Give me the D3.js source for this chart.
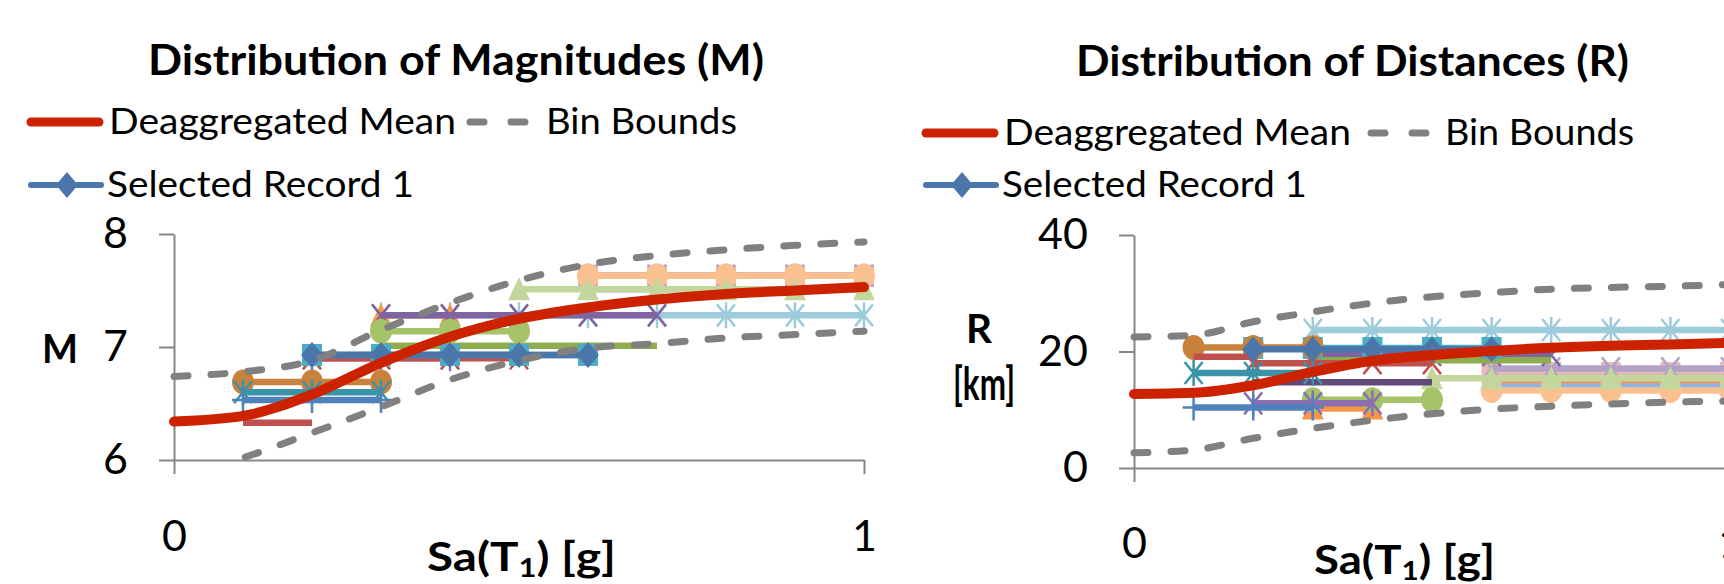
<!DOCTYPE html>
<html>
<head>
<meta charset="utf-8">
<style>
  body{margin:0;background:#fff;}
  svg{display:block;font-family:Lato,"Open Sans",sans-serif;}
</style>
</head>
<body>
<svg width="1724" height="584"></svg>
<script src="https://cdn.jsdelivr.net/npm/d3@7"></script>
<script>
// ---- data ----
var sa = [0, 0.1, 0.2, 0.3, 0.4, 0.5, 0.6, 0.7, 0.8, 0.9, 1.0];

var meanM  = [6.34, 6.39, 6.58, 6.86, 7.09, 7.25, 7.35, 7.42, 7.47, 7.50, 7.53];
var upperM = [6.74, 6.78, 6.88, 7.15, 7.39, 7.59, 7.73, 7.81, 7.86, 7.90, 7.93];
var lowerM = [5.85, 6.02, 6.24, 6.47, 6.71, 6.88, 6.99, 7.03, 7.08, 7.11, 7.14];

var meanR  = [12.7, 12.9, 14.2, 16.5, 18.4, 19.4, 20.1, 20.65, 21.0, 21.2, 21.5];
var upperR = [22.5, 22.8, 25.1, 26.8, 28.3, 29.4, 30.1, 30.7, 31.0, 31.2, 31.5];
var lowerR = [2.6, 3.1, 5.1, 6.8, 8.2, 9.3, 10.1, 10.6, 11.0, 11.3, 11.5];

// selected records: Sa range where the record is used, its M and its R
var recFrom = [0.6, 0.6, 0.6, 0.6, 0.6, 0.5, 0.3, 0.3, 0.3, 0.3, 0.3, 0.2, 0.2, 0.2, 0.2, 0.1, 0.1, 0.1, 0.1, 0.2];
var recTo   = [1.0, 1.0, 1.0, 1.0, 1.0, 1.0, 1.0, 0.4, 0.7, 0.7, 0.5, 0.5, 0.4, 0.5, 0.6, 0.3, 0.2, 0.3, 0.3, 0.6];
var recM    = [7.63, 7.51, 7.63, 7.63, 7.63, 7.51, 7.28, 7.28, 7.28, 7.01, 7.14, 6.93, 6.90, 6.90, 6.93, 6.69, 6.33, 6.60, 6.53, 6.93];
var recR    = [14.7, 14.0, 16.3, 17.1, 13.3, 15.4, 23.7, 10.2, 19.4, 18.5, 11.7, 14.7, 11.1, 18.0, 20.6, 20.7, 19.1, 16.3, 10.4, 20.4];

// record styles (drawn in this order, last on top)
var recColor  = ["#f79646", "#8eb4e3", "#e6b9b8", "#b3a2c7", "#fac090", "#c3d69b", "#9ccbdc", "#f79646",
                 "#8064a2", "#8fad4f", "#a5c368", "#604a7b", "#8c6fb0", "#c0504d", "#4bacc6", "#c8823c",
                 "#c0504d", "#3a93a6", "#4f81bd", "#4a76aa"];
var recMarker = ["none", "none", "square", "x", "circle", "triangle", "asterisk", "triangle",
                 "x", "none", "circle", "none", "asterisk", "x", "square", "circle",
                 "none", "asterisk", "plus", "diamond"];

var xTicks = [0, 1];
var yTicksM = [6, 7, 8];
var yTicksR = [0, 20, 40];

// ---- drawing ----
var svg = d3.select("svg");
var RED = "#cc2200", GREY = "#808080", AXIS = "#868686";

function marker(g, type, color, cx, cy) {
  if (type == "diamond") {
    g.append("path").attr("d", "M" + cx + "," + (cy - 13) + "L" + (cx + 11) + "," + cy + "L" + cx + "," + (cy + 13) + "L" + (cx - 11) + "," + cy + "Z").attr("fill", color);
  } else if (type == "square") {
    g.append("rect").attr("x", cx - 10).attr("y", cy - 11).attr("width", 20).attr("height", 22).attr("fill", color);
  } else if (type == "triangle") {
    g.append("path").attr("d", "M" + cx + "," + (cy - 12) + "L" + (cx + 11) + "," + (cy + 11) + "L" + (cx - 11) + "," + (cy + 11) + "Z").attr("fill", color);
  } else if (type == "circle") {
    g.append("ellipse").attr("cx", cx).attr("cy", cy).attr("rx", 11).attr("ry", 12.5).attr("fill", color);
  } else if (type == "x" || type == "asterisk" || type == "plus") {
    var d = "";
    if (type != "plus") d += "M" + (cx - 9) + "," + (cy - 11) + "L" + (cx + 9) + "," + (cy + 11) + "M" + (cx + 9) + "," + (cy - 11) + "L" + (cx - 9) + "," + (cy + 11);
    if (type != "x") d += "M" + cx + "," + (cy - 13) + "L" + cx + "," + (cy + 13);
    if (type == "plus") d += "M" + (cx - 11) + "," + cy + "L" + (cx + 11) + "," + cy;
    g.append("path").attr("d", d).attr("stroke", color).attr("stroke-width", 2.5).attr("fill", "none");
  }
}

function fitText(sel, len) {
  return sel.attr("textLength", len).attr("lengthAdjust", "spacingAndGlyphs");
}

function panel(o) {
  var g = svg.append("g");
  var x = d3.scaleLinear().domain([0, 1]).range([o.x0, o.x1]);
  var y = d3.scaleLinear().domain(o.domain).range([o.yBot, o.yTop]);

  // title
  fitText(g.append("text").attr("x", o.titleX).attr("y", o.titleY)
    .attr("font-size", 42).attr("font-weight", "bold").text(o.title), o.titleW);

  // legend
  var ly = o.legY;
  g.append("line").attr("x1", o.legX).attr("x2", o.legX + 68).attr("y1", ly).attr("y2", ly)
    .attr("stroke", RED).attr("stroke-width", 9).attr("stroke-linecap", "round");
  fitText(g.append("text").attr("x", o.legX + 78).attr("y", ly + 12).attr("font-size", 36).text("Deaggregated Mean"), o.meanW);
  g.append("line").attr("x1", o.dashX).attr("x2", o.dashX + 62).attr("y1", ly).attr("y2", ly)
    .attr("stroke", GREY).attr("stroke-width", 7).attr("stroke-linecap", "round").attr("stroke-dasharray", "14 27");
  fitText(g.append("text").attr("x", o.binX).attr("y", ly + 12).attr("font-size", 36).text("Bin Bounds"), o.binW);
  g.append("line").attr("x1", o.legX).attr("x2", o.legX + 70).attr("y1", 185).attr("y2", 185)
    .attr("stroke", recColor[19]).attr("stroke-width", 6).attr("stroke-linecap", "round");
  marker(g, "diamond", recColor[19], o.legX + 36, 185);
  fitText(g.append("text").attr("x", o.legX + 76).attr("y", 197).attr("font-size", 36).text("Selected Record 1"), o.recW);

  // axes
  var ya = g.append("g").attr("transform", "translate(" + o.x0 + ",0)")
    .call(d3.axisLeft(y).tickValues(o.yTicks).tickSize(15).tickSizeOuter(0).tickPadding(31).tickFormat(d3.format("d")));
  var xa = g.append("g").attr("transform", "translate(0," + o.yBot + ")")
    .call(d3.axisBottom(x).tickValues(xTicks).tickSize(14).tickSizeOuter(0).tickPadding(o.xPad).tickFormat(d3.format("d")));
  [ya, xa].forEach(function(a) {
    a.selectAll("path,line").attr("stroke", AXIS).attr("stroke-width", 2);
    a.selectAll("text").attr("font-size", 43).attr("fill", "#000").attr("font-family", "Lato,'Open Sans',sans-serif");
  });

  // axis titles
  o.yTitle.forEach(function(t) {
    fitText(g.append("text").attr("x", t[0]).attr("y", t[1]).attr("font-size", t[4]).attr("font-weight", "bold")
      .attr("text-anchor", "middle").text(t[2]), t[3]);
  });
  var st = g.append("text").attr("x", o.saX).attr("y", o.saY).attr("font-size", 40).attr("font-weight", "bold");
  st.append("tspan").text("Sa(T");
  st.append("tspan").attr("font-size", 26).attr("dy", 6).text("1");
  st.append("tspan").attr("dy", -6).text(") [g]");
  fitText(st, o.saW);

  // records
  var clipId = "clip" + o.id;
  g.append("clipPath").attr("id", clipId).append("rect")
    .attr("x", o.x0 - 30).attr("y", o.yTop).attr("width", o.x1 - o.x0 + 60).attr("height", o.yBot - o.yTop);
  var plot = g.append("g");
  recFrom.forEach(function(f, i) {
    var v = o.vals[i];
    var pts = sa.filter(function(s) { return s >= f - 1e-9 && s <= recTo[i] + 1e-9; });
    plot.append("line").attr("x1", x(f)).attr("x2", x(recTo[i])).attr("y1", y(v)).attr("y2", y(v))
      .attr("stroke", recColor[i]).attr("stroke-width", 6.5);
    pts.forEach(function(s) { marker(plot, recMarker[i], recColor[i], x(s), y(v)); });
  });

  // bin bounds and mean
  var line = d3.line().x(function(d, i) { return x(sa[i]); }).y(function(d) { return y(d); }).curve(d3.curveMonotoneX);
  var lines = g.append("g").attr("clip-path", "url(#" + clipId + ")");
  [o.upper, o.lower].forEach(function(b) {
    lines.append("path").attr("d", line(b)).attr("fill", "none").attr("stroke", GREY)
      .attr("stroke-width", 7).attr("stroke-linecap", "round").attr("stroke-dasharray", "14 23");
  });
  lines.append("path").attr("d", line(o.mean)).attr("fill", "none").attr("stroke", RED)
    .attr("stroke-width", 10).attr("stroke-linecap", "round");
}

panel({
  id: "M", x0: 174, x1: 864, yTop: 234, yBot: 460, domain: [6, 8], yTicks: yTicksM, xPad: 46,
  title: "Distribution of Magnitudes (M)", titleX: 148, titleY: 75, titleW: 616,
  legY: 122, legX: 31, dashX: 470, binX: 546, meanW: 347, binW: 191, recW: 307,
  yTitle: [[60, 363, "M", 36, 40]],
  saX: 427, saY: 571, saW: 189,
  vals: recM, mean: meanM, upper: upperM, lower: lowerM
});
panel({
  id: "R", x0: 1134, x1: 1730, yTop: 235, yBot: 468, domain: [0, 40], yTicks: yTicksR, xPad: 45,
  title: "Distribution of Distances (R)", titleX: 1076, titleY: 76, titleW: 553,
  legY: 133, legX: 926, dashX: 1371, binX: 1445, meanW: 347, binW: 189, recW: 305,
  yTitle: [[979, 343, "R", 26, 40], [984, 400, "[km]", 62, 46]],
  saX: 1314, saY: 574, saW: 181,
  vals: recR, mean: meanR, upper: upperR, lower: lowerR
});
</script>
</body>
</html>
